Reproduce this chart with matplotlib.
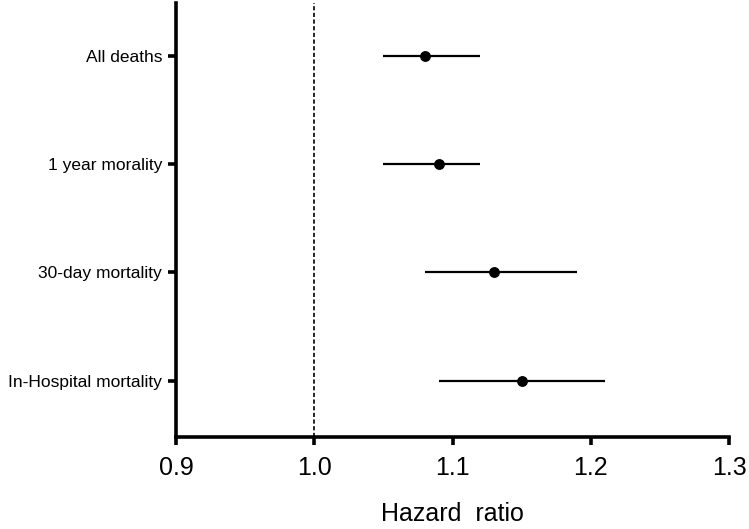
import matplotlib
matplotlib.use('Agg')
import matplotlib.pyplot as plt

OUTPUT = 'out.png'

# outcomes listed top to bottom
outcomes = ['All deaths', '1 year morality', '30-day mortality', 'In-Hospital mortality']
hazard_ratio = [1.08, 1.09, 1.13, 1.15]
ci_low = [1.05, 1.05, 1.08, 1.09]
ci_high = [1.12, 1.12, 1.19, 1.21]

x_ticks = [0.9, 1.0, 1.1, 1.2, 1.3]


def main():
    plt.rcParams['font.family'] = ['Liberation Sans', 'DejaVu Sans']

    fig = plt.figure(figsize=(7.49, 5.29), dpi=100)
    ax = fig.add_axes([0.235, 0.1745, 0.7383, 0.8195])

    n = len(outcomes)
    ypos = [n - 1 - i for i in range(n)]
    err_lo = [hr - lo for hr, lo in zip(hazard_ratio, ci_low)]
    err_hi = [hi - hr for hr, hi in zip(hazard_ratio, ci_high)]

    ax.axvline(1.0, color='black', linestyle=(0, (2.5, 1.5)), linewidth=1.2, zorder=1)
    ax.errorbar(hazard_ratio, ypos, xerr=[err_lo, err_hi], fmt='o', color='black',
                markersize=6.8, elinewidth=1.6, capsize=0, zorder=3)

    ax.set_xlim(0.9, 1.3)
    ax.set_ylim(-0.515, n - 0.515)
    ax.set_xticks(x_ticks)
    ax.set_xticklabels([f'{t:.1f}' for t in x_ticks])
    ax.set_yticks(ypos)
    ax.set_yticklabels(outcomes)

    for side in ('top', 'right'):
        ax.spines[side].set_visible(False)
    for side in ('left', 'bottom'):
        ax.spines[side].set_linewidth(2.6)
        ax.spines[side].set_capstyle('projecting')

    ax.tick_params(axis='x', length=6, width=2.6, labelsize=18, pad=8)
    ax.tick_params(axis='y', length=6, width=2.6, labelsize=12.5, pad=4)
    ax.set_xlabel('Hazard  ratio', fontsize=18, labelpad=16)

    fig.savefig(OUTPUT, dpi=100)


if __name__ == '__main__':
    main()
